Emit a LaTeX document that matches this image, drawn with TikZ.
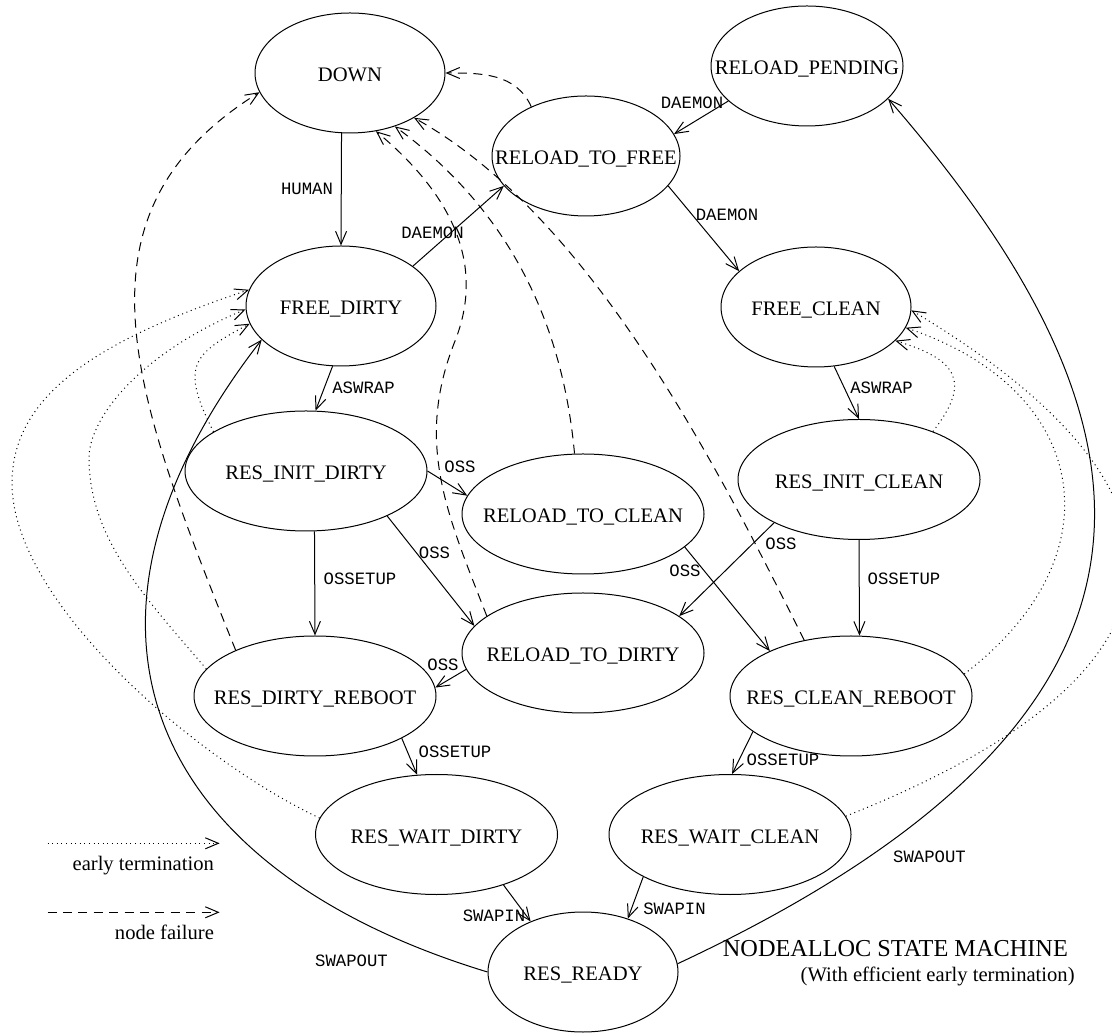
\documentclass[tikz,border=0pt]{standalone}
\usepackage{fontspec}
\setmainfont{Liberation Serif}
\newfontfamily\edgefont{Liberation Mono}
\usetikzlibrary{arrows.meta,shapes.geometric}
\newcommand\statename[1]{\makebox[0pt]{#1}}

\begin{document}
\begin{tikzpicture}[x=0.5pt,y=0.5pt,
  state/.style={draw, ellipse, line width=0.5pt, inner sep=0pt,
    minimum height=60pt, text height=9.3pt, text depth=0.6pt,
    font=\fontsize{10.3}{12}\selectfont},
  small/.style={state, minimum width=95pt},
  wide/.style={state, minimum width=121pt},
  lab/.style={font=\edgefont\fontsize{8.65}{10}\selectfont, inner sep=0pt},
  txt/.style={font=\fontsize{10.3}{12}\selectfont, inner sep=0pt},
  edge/.style={line width=0.5pt, -{Straight Barb[length=6.5pt,width=5.5pt]}},
  fail/.style={edge, dash pattern=on 4.5pt off 3.2pt},
  early/.style={edge, dash pattern=on 0.5pt off 1.8pt},
]
\useasboundingbox (0,0) rectangle (1112,1033);

% states
\node[small] (down) at (350,960) {\statename{DOWN}};
\node[small, minimum width=96pt] (rp) at (807,967) {\statename{RELOAD\_PENDING}};
\node[small, minimum width=94pt] (rtf) at (586,877) {\statename{RELOAD\_TO\_FREE}};
\node[small] (fd) at (341,727) {\statename{FREE\_DIRTY}};
\node[small] (fc) at (816,726) {\statename{FREE\_CLEAN}};
\node[wide] (rid) at (306,562) {\statename{RES\_INIT\_DIRTY}};
\node[wide] (rtc) at (583,519) {\statename{RELOAD\_TO\_CLEAN}};
\node[wide] (ric) at (859,553.5) {\statename{RES\_INIT\_CLEAN}};
\node[wide] (rtd) at (583,380) {\statename{RELOAD\_TO\_DIRTY}};
\node[wide] (rdr) at (315,337) {\statename{RES\_DIRTY\_REBOOT}};
\node[wide] (rcr) at (851,337) {\statename{RES\_CLEAN\_REBOOT}};
\node[wide] (rwd) at (436.5,198.5) {\statename{RES\_WAIT\_DIRTY}};
\node[wide] (rwc) at (730,198.5) {\statename{RES\_WAIT\_CLEAN}};
\node[small] (rr) at (583,61) {\statename{RES\_READY}};

% normal transitions
\draw[edge] (down.262) -- (fd.north);
\draw[edge] (fd.29) -- (rtf.200);
\draw[edge] (rp.204) -- (rtf.14);
\draw[edge] (rtf.340) -- (fc.155);
\draw[edge] (fd.262) -- (rid.81);
\draw[edge] (fc.287) -- (ric.north);
\draw[edge] (rid.east) -- (rtc.171);
\draw[edge] (rid.331) -- (rtd.166);
\draw[edge] (rid.278) -- (rdr.north);
\draw[edge] (ric.207) -- (rtd.21);
\draw[edge] (rtc.342) -- (rcr.151);
\draw[edge] (ric.south) -- (rcr.82);
\draw[edge] (rtd.188) -- (rdr.4);
\draw[edge] (rdr.334) -- (rwd.108);
\draw[edge] (rcr.200) -- (rwc.88);
\draw[edge] (rwd.323) -- (rr.136);
\draw[edge] (rwc.206) -- (rr.50);
\draw[edge] (rr.west) .. controls (148.5,164) and (39.4,406.5) .. (fd.203);
\draw[edge] (rr.5) .. controls (1222.6,324) and (1166.4,614) .. (rp.338);

% node failure
\draw[fail] (rtf.138) .. controls (516,960) and (481,960) .. (down.east);
\draw[fail] (rdr.150) .. controls (131,642.6) and (65,819) .. (down.192);
\draw[fail] (rtd.159) .. controls (447.4,518.3) and (414.3,589.7) .. (455,692)
  .. controls (484.6,766.4) and (454.7,836.1) .. (down.294);
\draw[fail] (rtc.98) .. controls (563.6,699.5) and (516.4,817.8) .. (down.310);
\draw[fail] (rcr.130) .. controls (712,578) and (587,819) .. (down.325);

% early termination
\draw[early] (rid.157) .. controls (179.7,667.4) and (192.5,678.9) .. (fd.191);
\draw[early] (rdr.166) .. controls (145.3,434.9) and (89,495) .. (89,575)
  .. controls (89,615) and (140,680) .. (fd.182);
\draw[early] (rwd.172) .. controls (197.1,273) and (12,430) .. (12,550)
  .. controls (12,640) and (103,694.7) .. (fd.170);
\draw[early] (ric.33) .. controls (971.5,651) and (958,673.3) .. (fc.337);
\draw[early] (rcr.11) .. controls (1118.5,475.9) and (1091.6,643.1) .. (fc.347);
\draw[early] (rwc.9) .. controls (1201,357.4) and (1221.6,537.6) .. (fc.358);

% transition labels
\node[lab] (l1) at (307,844) {HUMAN};
\node[lab] (l2) at (432.5,800) {DAEMON};
\node[lab] (l3) at (692,930) {DAEMON};
\node[lab] (l4) at (727,818) {DAEMON};
\node[lab] (l5) at (363.5,645) {ASWRAP};
\node[lab] (l6) at (881.5,645) {ASWRAP};
\node[lab] (l7) at (460,566) {OSS};
\node[lab] (l8) at (434.5,480) {OSS};
\node[lab] (l9) at (360,454) {OSSETUP};
\node[lab] (l10) at (781,489) {OSS};
\node[lab] (l11) at (685,462) {OSS};
\node[lab] (l12) at (904,454) {OSSETUP};
\node[lab] (l13) at (443,368) {OSS};
\node[lab] (l14) at (455,281) {OSSETUP};
\node[lab] (l15) at (783,273) {OSSETUP};
\node[lab] (l16) at (494,117) {SWAPIN};
\node[lab] (l17) at (674.5,124) {SWAPIN};
\node[lab] (l18) at (351.5,72) {SWAPOUT};
\node[lab] (l19) at (929.5,176) {SWAPOUT};

% legend
\coordinate (et1) at (47.5,189.7);
\coordinate (et2) at (219.6,189.7);
\draw[early] (et1) -- (et2);
\node[txt, anchor=base east] (etlab) at (214.3,163) {early termination};
\coordinate (nf1) at (47.5,120.7);
\coordinate (nf2) at (219.6,120.7);
\draw[fail] (nf1) -- (nf2);
\node[txt, anchor=base east] (nflab) at (214.3,93.7) {node failure};

% title
\node[inner sep=0pt, anchor=base west, font=\fontsize{12.15}{14}\selectfont] (title) at (722.5,77) {NODEALLOC STATE MACHINE};
\node[txt, anchor=base east] (subtitle) at (1075,51.3) {(With efficient early termination)};
\end{tikzpicture}
\end{document}
